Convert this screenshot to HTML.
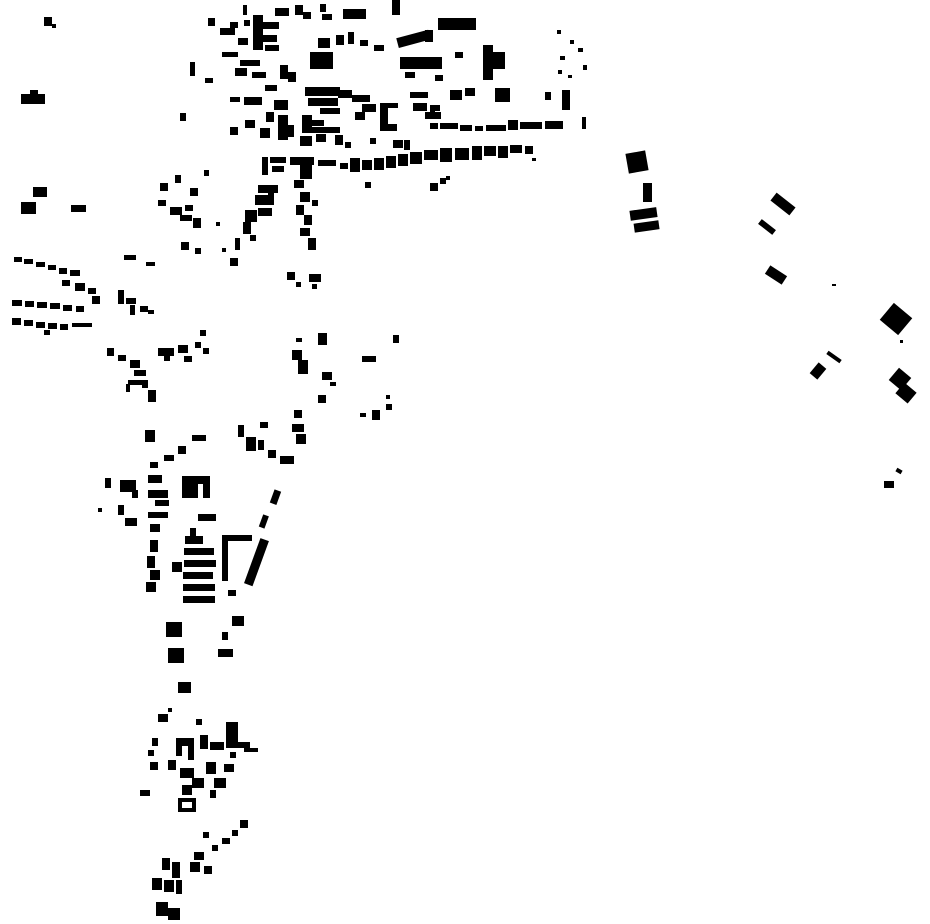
<!DOCTYPE html>
<html><head><style>html,body{margin:0;padding:0;background:#fff}svg{display:block}</style></head>
<body>
<svg width="930" height="924" viewBox="0 0 930 924" xmlns="http://www.w3.org/2000/svg">
<g fill="#000">
<!-- far top-left -->
<rect x="44" y="17" width="8" height="9"/><rect x="52" y="24" width="4" height="4"/>
<rect x="21" y="94" width="24" height="10"/><rect x="30" y="90" width="8" height="6"/>
<rect x="33" y="187" width="14" height="10"/><rect x="21" y="202" width="15" height="12"/><rect x="71" y="205" width="15" height="7"/>
<!-- left rows -->
<rect x="14" y="257" width="8" height="5"/><rect x="24" y="259" width="9" height="5"/><rect x="36" y="262" width="9" height="5"/><rect x="48" y="265" width="8" height="5"/><rect x="59" y="268" width="8" height="6"/><rect x="70" y="270" width="10" height="6"/>
<rect x="62" y="280" width="8" height="6"/><rect x="75" y="283" width="10" height="8"/><rect x="88" y="288" width="8" height="6"/><rect x="92" y="296" width="8" height="8"/>
<rect x="12" y="300" width="10" height="6"/><rect x="25" y="301" width="9" height="6"/><rect x="37" y="302" width="10" height="6"/><rect x="50" y="303" width="10" height="6"/><rect x="63" y="305" width="9" height="6"/><rect x="76" y="306" width="8" height="6"/>
<rect x="12" y="318" width="9" height="7"/><rect x="24" y="320" width="9" height="6"/><rect x="36" y="322" width="9" height="6"/><rect x="48" y="323" width="9" height="6"/><rect x="60" y="324" width="8" height="6"/><rect x="72" y="323" width="20" height="4"/><rect x="44" y="330" width="6" height="5"/>
<rect x="124" y="255" width="12" height="5"/><rect x="146" y="262" width="9" height="4"/>
<rect x="118" y="290" width="6" height="14"/><rect x="126" y="298" width="10" height="6"/><rect x="140" y="306" width="8" height="6"/><rect x="148" y="310" width="6" height="4"/><rect x="130" y="305" width="5" height="10"/>
<!-- top main cluster -->
<rect x="392" y="0" width="8" height="15"/><rect x="343" y="9" width="23" height="10"/><rect x="438" y="18" width="38" height="12"/>
<rect x="397" y="34" width="33" height="10" transform="rotate(-15 413 39)"/><rect x="425" y="30" width="8" height="12"/>
<rect x="483" y="45" width="10" height="35"/><rect x="493" y="52" width="12" height="17"/>
<rect x="400" y="57" width="42" height="12"/><rect x="455" y="52" width="8" height="6"/>
<rect x="310" y="52" width="23" height="17"/><rect x="318" y="38" width="12" height="10"/><rect x="336" y="35" width="8" height="10"/><rect x="348" y="32" width="6" height="12"/><rect x="360" y="40" width="8" height="6"/><rect x="374" y="45" width="10" height="6"/>
<rect x="253" y="15" width="10" height="35"/><rect x="263" y="22" width="16" height="7"/><rect x="263" y="35" width="14" height="7"/><rect x="265" y="45" width="14" height="6"/>
<rect x="275" y="8" width="14" height="8"/><rect x="295" y="5" width="8" height="10"/><rect x="303" y="12" width="8" height="7"/><rect x="320" y="4" width="6" height="8"/><rect x="322" y="14" width="10" height="6"/>
<rect x="208" y="18" width="7" height="8"/><rect x="220" y="28" width="15" height="7"/><rect x="230" y="22" width="8" height="6"/><rect x="243" y="5" width="4" height="10"/><rect x="238" y="38" width="10" height="7"/><rect x="244" y="20" width="6" height="6"/>
<rect x="222" y="52" width="16" height="5"/><rect x="240" y="60" width="20" height="6"/><rect x="235" y="68" width="12" height="8"/><rect x="252" y="72" width="14" height="6"/><rect x="190" y="62" width="5" height="14"/><rect x="205" y="78" width="8" height="5"/>
<rect x="280" y="65" width="8" height="14"/><rect x="288" y="72" width="8" height="10"/><rect x="265" y="85" width="12" height="6"/><rect x="244" y="97" width="18" height="8"/><rect x="230" y="97" width="10" height="5"/>
<rect x="305" y="87" width="35" height="9"/><rect x="308" y="98" width="30" height="8"/><rect x="320" y="108" width="20" height="6"/><rect x="338" y="90" width="14" height="8"/><rect x="352" y="95" width="18" height="7"/>
<rect x="302" y="115" width="10" height="18"/><rect x="312" y="120" width="12" height="6"/><rect x="310" y="127" width="30" height="6"/>
<rect x="380" y="103" width="8" height="28"/><rect x="380" y="124" width="17" height="7"/><rect x="388" y="103" width="10" height="5"/><rect x="362" y="104" width="14" height="8"/><rect x="355" y="112" width="10" height="8"/>
<rect x="274" y="100" width="14" height="10"/><rect x="266" y="112" width="8" height="10"/><rect x="278" y="115" width="10" height="25"/><rect x="288" y="125" width="6" height="12"/><rect x="245" y="120" width="10" height="8"/><rect x="230" y="127" width="8" height="8"/><rect x="260" y="128" width="10" height="10"/>
<rect x="300" y="136" width="12" height="10"/><rect x="316" y="134" width="10" height="8"/><rect x="335" y="135" width="8" height="10"/><rect x="345" y="142" width="6" height="6"/><rect x="370" y="138" width="6" height="6"/><rect x="393" y="140" width="10" height="8"/><rect x="404" y="140" width="6" height="10"/>
<rect x="450" y="90" width="12" height="10"/><rect x="465" y="88" width="10" height="8"/><rect x="495" y="88" width="15" height="14"/><rect x="545" y="92" width="6" height="8"/><rect x="562" y="90" width="8" height="20"/><rect x="435" y="75" width="8" height="6"/><rect x="405" y="72" width="10" height="6"/>
<rect x="410" y="92" width="18" height="6"/><rect x="413" y="103" width="14" height="8"/><rect x="430" y="105" width="10" height="6"/><rect x="425" y="112" width="16" height="7"/>
<rect x="430" y="123" width="8" height="6"/><rect x="440" y="123" width="18" height="6"/><rect x="460" y="125" width="12" height="6"/><rect x="475" y="126" width="8" height="5"/><rect x="486" y="125" width="20" height="6"/><rect x="508" y="120" width="10" height="10"/><rect x="520" y="122" width="22" height="7"/><rect x="545" y="121" width="18" height="8"/><rect x="582" y="117" width="4" height="12"/><rect x="430" y="110" width="5" height="8"/>
<rect x="557" y="30" width="4" height="4"/><rect x="570" y="40" width="4" height="4"/><rect x="578" y="48" width="5" height="4"/><rect x="560" y="56" width="5" height="4"/><rect x="558" y="70" width="4" height="4"/><rect x="583" y="65" width="4" height="5"/><rect x="568" y="75" width="4" height="3"/>
<!-- row below -->
<rect x="262" y="157" width="6" height="18"/><rect x="270" y="157" width="16" height="6"/><rect x="272" y="166" width="12" height="6"/><rect x="290" y="157" width="24" height="8"/><rect x="300" y="165" width="12" height="14"/>
<rect x="318" y="160" width="18" height="6"/><rect x="340" y="163" width="8" height="6"/><rect x="350" y="158" width="10" height="14"/><rect x="362" y="160" width="10" height="10"/><rect x="374" y="158" width="10" height="12"/><rect x="386" y="156" width="10" height="12"/><rect x="398" y="154" width="10" height="12"/><rect x="410" y="152" width="12" height="12"/><rect x="424" y="150" width="14" height="10"/><rect x="440" y="148" width="12" height="14"/><rect x="455" y="148" width="14" height="12"/><rect x="472" y="146" width="10" height="14"/><rect x="484" y="146" width="12" height="10"/><rect x="498" y="146" width="10" height="12"/><rect x="510" y="145" width="12" height="8"/><rect x="525" y="146" width="8" height="8"/><rect x="532" y="158" width="4" height="3"/>
<rect x="365" y="182" width="6" height="6"/><rect x="430" y="183" width="8" height="8"/><rect x="440" y="178" width="6" height="6"/><rect x="446" y="176" width="4" height="4"/>
<rect x="180" y="113" width="6" height="8"/><rect x="204" y="170" width="5" height="6"/>
<!-- below top cluster -->
<rect x="258" y="185" width="20" height="8"/><rect x="255" y="195" width="14" height="10"/><rect x="268" y="193" width="6" height="12"/><rect x="245" y="210" width="12" height="12"/><rect x="243" y="222" width="8" height="12"/><rect x="258" y="208" width="14" height="8"/><rect x="250" y="235" width="6" height="6"/><rect x="235" y="238" width="5" height="12"/><rect x="230" y="258" width="8" height="8"/><rect x="222" y="248" width="4" height="4"/><rect x="216" y="222" width="4" height="4"/>
<rect x="294" y="180" width="10" height="8"/><rect x="300" y="192" width="10" height="10"/><rect x="296" y="205" width="8" height="10"/><rect x="304" y="215" width="8" height="10"/><rect x="300" y="228" width="10" height="8"/><rect x="308" y="238" width="8" height="12"/><rect x="312" y="200" width="6" height="6"/>
<rect x="160" y="183" width="8" height="8"/><rect x="175" y="175" width="6" height="8"/><rect x="190" y="188" width="8" height="8"/><rect x="158" y="200" width="8" height="6"/><rect x="170" y="207" width="12" height="8"/><rect x="185" y="205" width="8" height="6"/><rect x="180" y="215" width="12" height="6"/><rect x="193" y="218" width="8" height="10"/><rect x="181" y="242" width="8" height="8"/><rect x="195" y="248" width="6" height="6"/>
<rect x="287" y="272" width="8" height="8"/><rect x="309" y="274" width="12" height="8"/><rect x="296" y="282" width="5" height="5"/><rect x="312" y="284" width="5" height="5"/>
<!-- middle -->
<rect x="107" y="348" width="7" height="8"/><rect x="118" y="355" width="8" height="6"/><rect x="130" y="360" width="10" height="8"/><rect x="134" y="370" width="12" height="6"/><rect x="128" y="380" width="14" height="5"/><rect x="126" y="384" width="4" height="8"/><rect x="142" y="380" width="6" height="8"/><rect x="148" y="390" width="8" height="12"/>
<rect x="158" y="348" width="16" height="8"/><rect x="178" y="345" width="10" height="8"/><rect x="184" y="356" width="8" height="6"/><rect x="195" y="342" width="6" height="6"/><rect x="203" y="348" width="6" height="6"/><rect x="200" y="330" width="6" height="6"/><rect x="164" y="355" width="6" height="6"/>
<rect x="318" y="333" width="9" height="12"/><rect x="292" y="350" width="10" height="10"/><rect x="298" y="360" width="10" height="14"/><rect x="296" y="338" width="6" height="4"/><rect x="393" y="335" width="6" height="8"/><rect x="362" y="356" width="14" height="6"/><rect x="322" y="372" width="10" height="8"/><rect x="330" y="382" width="6" height="4"/><rect x="318" y="395" width="8" height="8"/><rect x="372" y="410" width="8" height="10"/><rect x="386" y="404" width="6" height="6"/><rect x="360" y="413" width="6" height="4"/><rect x="386" y="395" width="4" height="4"/>
<rect x="238" y="425" width="6" height="12"/><rect x="246" y="437" width="10" height="14"/><rect x="260" y="422" width="8" height="6"/><rect x="258" y="440" width="6" height="10"/><rect x="268" y="450" width="8" height="8"/><rect x="280" y="456" width="14" height="8"/><rect x="294" y="410" width="8" height="8"/><rect x="292" y="424" width="12" height="8"/><rect x="296" y="434" width="10" height="10"/>
<rect x="145" y="430" width="10" height="12"/><rect x="192" y="435" width="14" height="6"/><rect x="178" y="446" width="8" height="8"/><rect x="164" y="455" width="10" height="6"/><rect x="150" y="462" width="8" height="6"/>
<rect x="105" y="478" width="6" height="10"/><rect x="120" y="480" width="16" height="12"/><rect x="132" y="490" width="6" height="8"/><rect x="148" y="475" width="14" height="8"/><rect x="148" y="490" width="20" height="8"/><rect x="155" y="500" width="14" height="6"/><rect x="118" y="505" width="6" height="10"/><rect x="125" y="518" width="12" height="8"/><rect x="148" y="512" width="20" height="6"/><rect x="150" y="524" width="10" height="8"/><rect x="98" y="508" width="4" height="4"/>
<path d="M182 476h28v22h-7v-14h-5v14h-16z"/>
<rect x="198" y="514" width="18" height="7"/><rect x="190" y="528" width="6" height="8"/>
<rect x="150" y="540" width="8" height="12"/><rect x="147" y="556" width="8" height="12"/><rect x="150" y="570" width="10" height="10"/><rect x="146" y="582" width="10" height="10"/><rect x="172" y="562" width="10" height="10"/>
<rect x="185" y="536" width="18" height="8"/><rect x="184" y="548" width="30" height="7"/><rect x="184" y="560" width="32" height="7"/><rect x="183" y="572" width="30" height="7"/><rect x="183" y="584" width="32" height="7"/><rect x="183" y="596" width="32" height="7"/>
<rect x="222" y="536" width="6" height="45"/><rect x="222" y="535" width="30" height="6"/>
<rect x="252" y="538" width="9" height="48" transform="rotate(20 256 562)"/>
<rect x="272" y="490" width="7" height="14" transform="rotate(20 275 497)"/><rect x="261" y="515" width="6" height="13" transform="rotate(20 264 521)"/>
<rect x="228" y="590" width="8" height="6"/>
<rect x="166" y="622" width="16" height="15"/><rect x="168" y="648" width="16" height="15"/><rect x="178" y="682" width="13" height="11"/>
<rect x="218" y="649" width="15" height="8"/><rect x="232" y="616" width="12" height="10"/><rect x="222" y="632" width="6" height="8"/>
<!-- lower cluster -->
<rect x="158" y="714" width="10" height="8"/><rect x="168" y="708" width="4" height="4"/><rect x="196" y="719" width="6" height="6"/><rect x="152" y="738" width="6" height="8"/><rect x="148" y="750" width="6" height="6"/><rect x="150" y="762" width="8" height="8"/><rect x="140" y="790" width="10" height="6"/>
<path d="M176 738h18v22h-6v-14h-6v10h-6z"/><rect x="200" y="735" width="8" height="14"/><rect x="210" y="742" width="14" height="8"/>
<path d="M226 722h12v20h12v6h-24z"/><rect x="244" y="748" width="14" height="4"/>
<rect x="168" y="760" width="8" height="10"/><rect x="180" y="768" width="14" height="10"/><rect x="192" y="778" width="12" height="10"/><rect x="182" y="785" width="10" height="10"/><rect x="206" y="762" width="10" height="12"/><rect x="214" y="778" width="12" height="10"/><rect x="224" y="764" width="10" height="8"/><rect x="230" y="752" width="6" height="6"/><rect x="210" y="790" width="6" height="8"/>
<path d="M178 798h18v14h-18zM182 802v6h10v-6z"/>
<rect x="240" y="820" width="8" height="8"/><rect x="232" y="830" width="6" height="6"/><rect x="222" y="838" width="8" height="6"/><rect x="212" y="845" width="6" height="6"/><rect x="203" y="832" width="6" height="6"/><rect x="194" y="852" width="10" height="8"/><rect x="190" y="862" width="10" height="10"/><rect x="204" y="866" width="8" height="8"/>
<rect x="162" y="858" width="8" height="12"/><rect x="172" y="862" width="8" height="16"/><rect x="152" y="878" width="10" height="12"/><rect x="164" y="880" width="10" height="12"/><rect x="176" y="880" width="6" height="14"/><rect x="156" y="902" width="12" height="14"/><rect x="168" y="908" width="12" height="12"/>
<!-- right side -->
<rect x="627" y="152" width="20" height="20" transform="rotate(-10 637 162)"/><rect x="643" y="183" width="9" height="19"/><rect x="630" y="209" width="27" height="10" transform="rotate(-8 643 214)"/><rect x="634" y="222" width="25" height="9" transform="rotate(-8 646 226)"/>
<rect x="771" y="199" width="24" height="10" transform="rotate(38 783 204)"/><rect x="758" y="224" width="18" height="6" transform="rotate(38 767 227)"/><rect x="766" y="270" width="20" height="10" transform="rotate(33 776 275)"/><rect x="832" y="284" width="4" height="2"/>
<rect x="884" y="308" width="24" height="22" transform="rotate(40 896 319)"/><rect x="811" y="366" width="14" height="10" transform="rotate(-50 818 371)"/><rect x="826" y="355" width="16" height="4" transform="rotate(35 834 357)"/>
<rect x="892" y="371" width="16" height="16" transform="rotate(40 900 379)"/><rect x="898" y="386" width="16" height="14" transform="rotate(40 906 393)"/><rect x="900" y="340" width="3" height="3"/>
<rect x="884" y="481" width="10" height="7"/><rect x="896" y="469" width="6" height="4" transform="rotate(30 899 471)"/>
</g>
</svg>
</body></html>
